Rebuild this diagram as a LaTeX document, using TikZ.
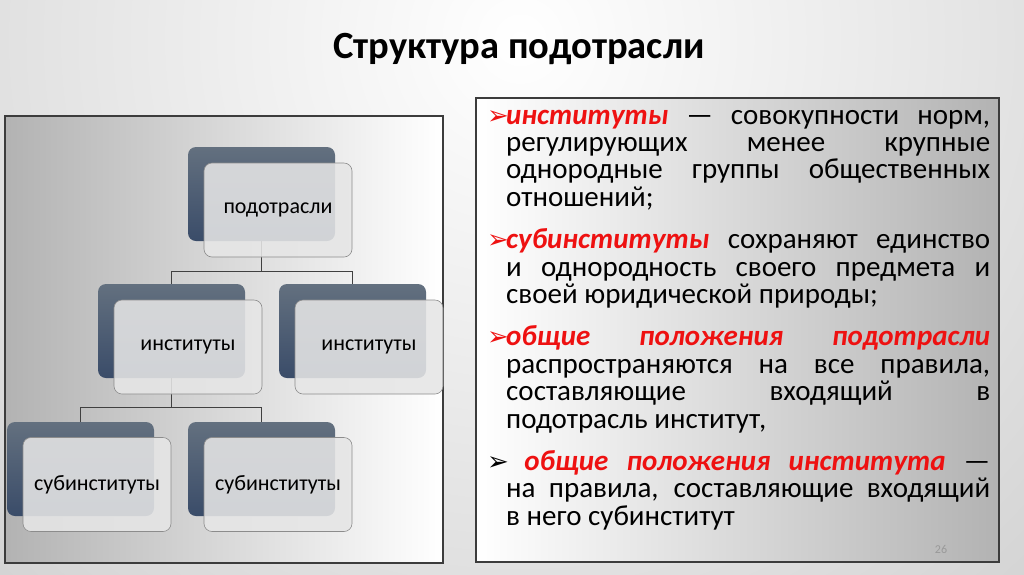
\documentclass[tikz,border=0pt]{standalone}
\usepackage{fontspec}
\setmainfont{Carlito}
\newfontfamily\symfont{DejaVu Sans}
\definecolor{slidered}{HTML}{EE1111}
\definecolor{bgouter}{HTML}{B4B4B4}
\definecolor{darktop}{HTML}{63707F}
\definecolor{darkbot}{HTML}{3A4C69}
\definecolor{frontfill}{HTML}{E6E6E6}
\definecolor{frontedge}{HTML}{8C8C8C}
\definecolor{connc}{HTML}{404040}
\definecolor{paneledge}{HTML}{3C3C3C}
\newcommand\keyw[1]{{\color{slidered}\bfseries\itshape #1}}
\newcommand\bulmark[1]{\makebox[18pt][l]{\hspace*{-1pt}\raisebox{0pt}{\symfont\fontsize{26}{26}\selectfont\color{#1}➢}\hss}}
\newcommand\bpar{\hangindent=18pt\hangafter=1 }
\begin{document}
\begin{tikzpicture}[x=1pt,y=-1pt,
  darkbox/.style={rounded corners=8pt, minimum width=147pt, minimum height=94pt,
    inner sep=0pt, top color=darktop, bottom color=darkbot},
  frontbox/.style={rounded corners=8pt, minimum width=148pt, minimum height=94pt,
    inner sep=0pt, fill=frontfill, fill opacity=0.88, text opacity=1,
    draw=frontedge, line width=0.6pt, font=\fontsize{22}{26}\selectfont},
  conn/.style={draw=connc, line width=1pt},
  panel/.style={draw=paneledge, line width=1.6pt}]
\useasboundingbox (0,0) rectangle (1024,574);
% slide background
\fill[bgouter] (0,0) rectangle (1024,574);
\begin{scope}
\clip (0,0) rectangle (1024,574);
\shade[inner color=white, outer color=bgouter] (520,40) circle (1300);
\end{scope}
% title
\node[anchor=base, inner sep=0pt, font=\fontsize{38.5}{40}\selectfont\bfseries] (title) at (519,58) {Структура подотрасли};
% left panel
\shadedraw[panel, left color=black!30, right color=white] (5,116) rectangle (443,563);
% right panel
\shadedraw[panel, left color=white, right color=black!30] (476,98) rectangle (999,562);
% junctions
\coordinate (j1) at (262,271);
\coordinate (j2) at (171,407);
% dark boxes
\path (261.5,194) coordinate (c1) (171.5,331) coordinate (c2) (352.5,331) coordinate (c3)
      (80.5,469) coordinate (c4) (261.5,469) coordinate (c5);
\draw[conn] (c1) -- (c1 |- j1) -| (c2);
\draw[conn] (c1 |- j1) -| (c3);
\draw[conn] (c2) -- (c2 |- j2) -| (c4);
\draw[conn] (c2 |- j2) -| (c5);
\node[darkbox] (d1) at (c1) {};
\node[darkbox] (d2) at (c2) {};
\node[darkbox] (d3) at (c3) {};
\node[darkbox] (d4) at (c4) {};
\node[darkbox] (d5) at (c5) {};
\node[frontbox] (f1) at (278,210) {подотрасли};
\node[frontbox] (f2) at (188,347) {институты};
\node[frontbox] (f3) at (369,347) {институты};
\node[frontbox] (f4) at (97,484.5) {субинституты};
\node[frontbox] (f5) at (278,484.5) {субинституты};
% right text
\node[anchor=base west, inner sep=0pt, text width=502pt, align=justify,
      font=\fontsize{29}{27.4}\selectfont] (txt) at (488,124) {%
\setlength{\parskip}{15pt}\hyphenpenalty=10000 \exhyphenpenalty=10000 \emergencystretch=0pt
\bpar\bulmark{slidered}\keyw{институты} — совокупности норм,\linebreak
регулирующих менее крупные\linebreak
однородные группы общественных\linebreak
отношений;\par
\bpar\bulmark{slidered}\keyw{субинституты} сохраняют единство\linebreak
и однородность своего предмета и\linebreak
своей юридической природы;\par
\bpar\bulmark{slidered}\keyw{общие положения подотрасли}\linebreak
распространяются на все правила,\linebreak
составляющие входящий в\linebreak
подотрасль институт,\par
\bpar\bulmark{black}\ \keyw{общие положения института} —\linebreak
на правила, составляющие входящий\linebreak
в него субинститут\par};
% page number
\node[anchor=base, inner sep=0pt, font=\fontsize{12}{12}\selectfont, text=black!40] (pg) at (941,553) {26};
\end{tikzpicture}
\end{document}
